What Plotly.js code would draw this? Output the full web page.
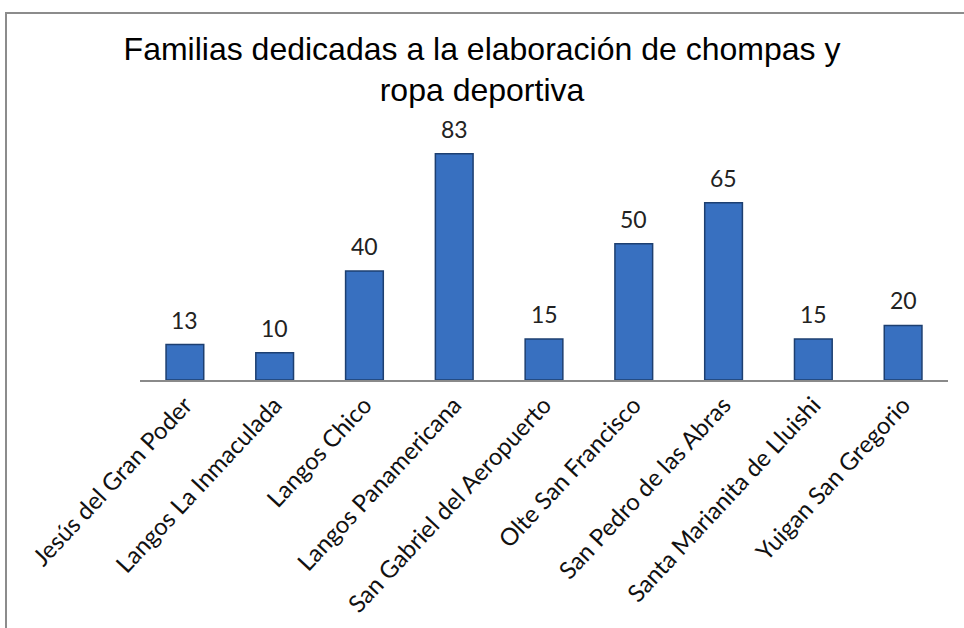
<!DOCTYPE html>
<html>
<head>
<meta charset="utf-8">
<script src="https://cdn.plot.ly/plotly-3.0.1.min.js"></script>
<style>
  html, body { margin: 0; padding: 0; background: #ffffff; }
  #graph { width: 964px; height: 628px; }
  #frame { position: absolute; left: 5px; top: 12px; width: 970px; height: 640px;
           border-left: 2px solid #8c8c8c; border-top: 2px solid #8c8c8c; pointer-events: none; }
</style>
</head>
<body>
<div id="graph"></div>
<div id="frame"></div>
<script>
// communities (barrios) and number of families
var comunidades = ['Jesús del Gran Poder', 'Langos La Inmaculada', 'Langos Chico',
	'Langos Panamericana', 'San Gabriel del Aeropuerto', 'Olte San Francisco',
	'San Pedro de las Abras', 'Santa Marianita de Lluishi', 'Yuigan San Gregorio'];
var familias = [13, 10, 40, 83, 15, 50, 65, 15, 20];

var labelFont = 'Lato, "Open Sans", sans-serif';

var trace = {
	x: comunidades,
	y: familias,
	type: 'bar',
	marker: {
		color: '#3870c0',
		line: { color: '#1d3f70', width: 1.5 }
	},
	hoverinfo: 'none'
};

// value labels above the bars
var notas = [];
for (var i = 0; i < comunidades.length; i++) {
	notas.push({
		x: comunidades[i],
		y: familias[i],
		text: String(familias[i]),
		showarrow: false,
		yanchor: 'bottom',
		yshift: 9,
		font: { family: labelFont, size: 23, color: '#222222' }
	});
}

var layout = {
	width: 964,
	height: 628,
	margin: { l: 140, r: 16, t: 132, b: 248 },
	paper_bgcolor: '#ffffff',
	plot_bgcolor: '#ffffff',
	bargap: 0.58,
	title: {
		text: 'Familias dedicadas a la elaboración de chompas y<br>ropa deportiva',
		font: { family: '"Liberation Sans", Arial, sans-serif', size: 32, color: '#000000' },
		x: 0.5,
		xref: 'container',
		xanchor: 'center',
		y: 0.905,
		yref: 'container'
	},
	xaxis: {
		tickangle: -47,
		tickfont: { family: labelFont, size: 24, color: '#111111' },
		showline: true,
		linecolor: '#8a8a8a',
		linewidth: 1.5,
		ticks: '',
		showgrid: false
	},
	yaxis: {
		range: [0, 91],
		visible: false,
		showgrid: false,
		zeroline: false
	},
	annotations: notas,
	showlegend: false
};

Plotly.newPlot('graph', [trace], layout, { displayModeBar: false, staticPlot: true });
</script>
</body>
</html>
